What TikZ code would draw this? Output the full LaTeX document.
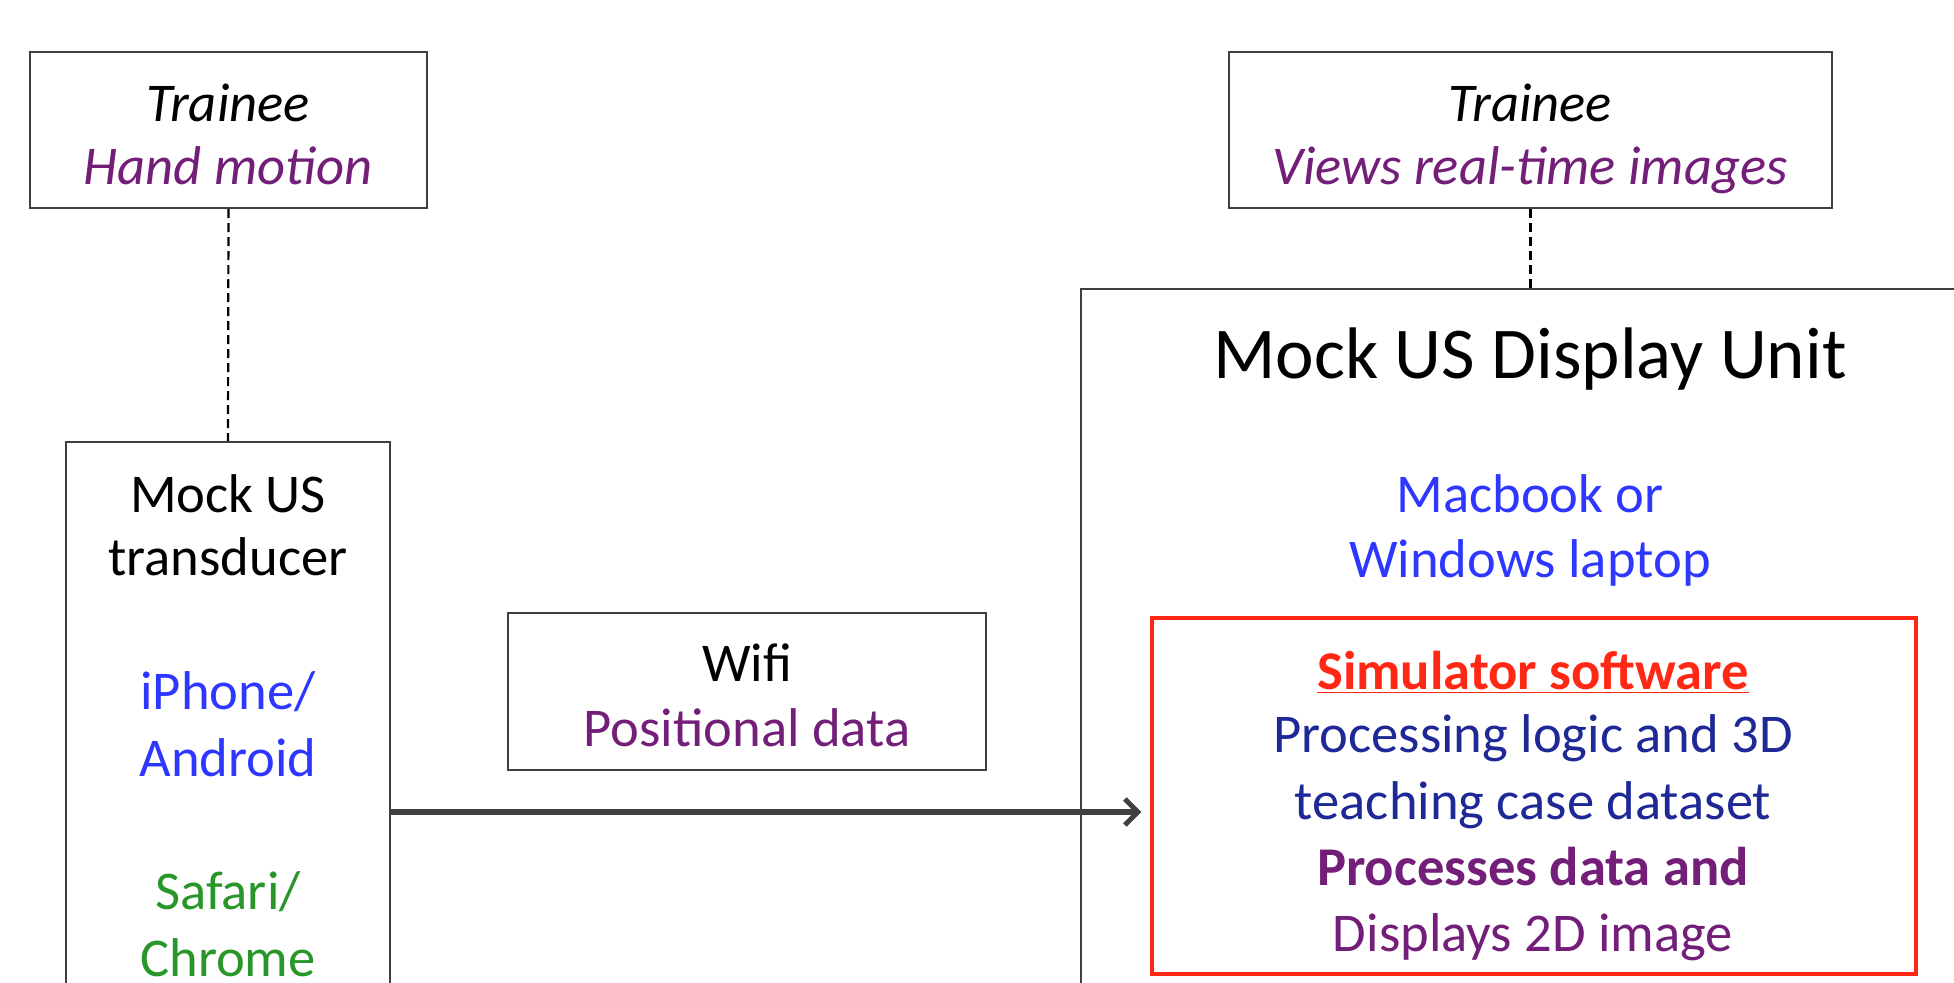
\documentclass[tikz,border=0pt]{standalone}
\usepackage{fontspec}
\setmainfont{Carlito}
\usetikzlibrary{arrows.meta}
\definecolor{linegray}{RGB}{64,64,64}
\definecolor{txtpurple}{RGB}{115,30,120}
\definecolor{txtblue}{RGB}{45,55,255}
\definecolor{txtgreen}{RGB}{40,150,40}
\definecolor{txtdarkblue}{RGB}{30,40,150}
\definecolor{txtred}{RGB}{255,40,20}
\tikzset{
  boxstyle/.style={draw=linegray, line width=1.1pt, rectangle, inner sep=0pt},
  redbox/.style={draw=txtred, line width=1.6pt, rectangle, inner sep=0pt},
  txt/.style={font=\fontsize{27.3}{32.5}\selectfont, anchor=base, inner sep=0pt},
  bigtxt/.style={font=\fontsize{36.5}{44}\selectfont, anchor=base, inner sep=0pt},
  dashconn/.style={draw=black, line width=1.1pt, dash pattern=on 4.5pt off 2.5pt},
  arrowconn/.style={draw=linegray, line width=3pt, -{Straight Barb[length=6.5pt,width=13pt,line width=2.5pt]}, shorten >=4.5pt}
}
\begin{document}
\begin{tikzpicture}[x=0.5pt,y=-0.5pt]
\useasboundingbox (0,0) rectangle (1954,983);
\clip (0,0) rectangle (1954,983);
\fill[white] (0,0) rectangle (1954,983);

% boxes
\node[boxstyle, minimum width=397pt*0.5, minimum height=156pt*0.5] (tl) at (228.5,130) {};
\node[boxstyle, minimum width=603pt*0.5, minimum height=156pt*0.5] (tr) at (1530.5,130) {};
\node[boxstyle, minimum width=324pt*0.5, minimum height=658pt*0.5] (tx) at (228,771) {};
\node[boxstyle, minimum width=478pt*0.5, minimum height=157pt*0.5] (wifi) at (747,691.5) {};
\node[boxstyle, minimum width=1019pt*0.5, minimum height=811pt*0.5] (disp) at (1590.5,694.5) {};
\node[redbox, minimum width=764pt*0.5, minimum height=356pt*0.5] (sim) at (1534,796) {};

% texts left trainee
\node[txt] (tlA) at (228,122) {\itshape Trainee};
\node[txt, text=txtpurple] (tlB) at (228,185) {\itshape Hand motion};
% texts right trainee
\node[txt] (trA) at (1530,122) {\itshape Trainee};
\node[txt, text=txtpurple] (trB) at (1530,185) {\itshape Views real-time images};
% transducer
\node[txt] (txA) at (228,513) {Mock US};
\node[txt] (txB) at (228,576) {transducer};
\node[txt, text=txtblue] (txC) at (228,709) {iPhone/};
\node[txt, text=txtblue] (txD) at (228,776) {Android};
\node[txt, text=txtgreen] (txE) at (228,909) {Safari/};
\node[txt, text=txtgreen] (txF) at (228,976) {Chrome};
% wifi
\node[txt] (wA) at (747,681) {Wifi};
\node[txt, text=txtpurple] (wB) at (747,746) {Positional data};
% display unit
\node[bigtxt] (dA) at (1530,379) {Mock US Display Unit};
\node[txt, text=txtblue] (dB) at (1530,513) {Macbook or};
\node[txt, text=txtblue] (dC) at (1530,578) {Windows laptop};
% simulator
\node[txt, text=txtred] (sA) at (1533,689) {\bfseries\underline{Simulator software}};
\node[txt, text=txtdarkblue] (sB) at (1533,752) {Processing logic and 3D};
\node[txt, text=txtdarkblue] (sC) at (1533,819) {teaching case dataset};
\node[txt, text=txtpurple] (sD) at (1533,885) {\bfseries Processes data and};
\node[txt, text=txtpurple] (sE) at (1533,951) {Displays 2D image};

% connectors
\draw[dashconn] (tl.south) -- (tx.north);
\draw[dashconn] (tr.south) -- (tr.south |- disp.north);
\coordinate (ay) at (0,812);
\draw[arrowconn] (tx.east |- ay) -- (sim.west |- ay);
\end{tikzpicture}
\end{document}
